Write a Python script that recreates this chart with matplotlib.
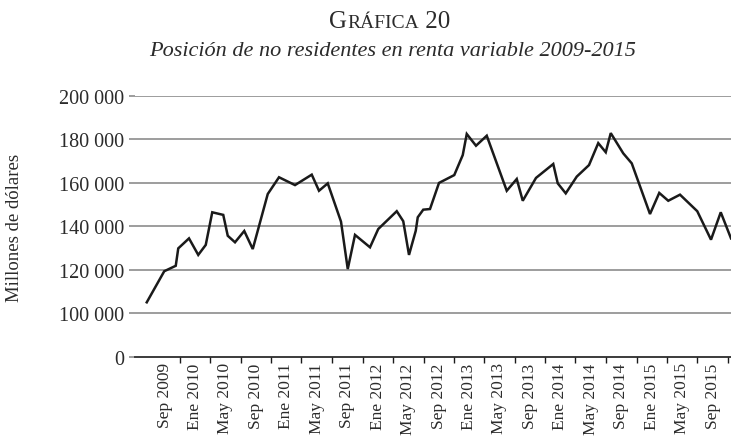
import pandas as pd
import matplotlib
matplotlib.use("Agg")
import matplotlib.pyplot as plt
import matplotlib.dates as mdates

# fechas de cada observación
fechas = ['2009-08-21', '2009-10-30', '2009-12-15', '2009-12-25', '2010-02-06', '2010-03-15',
          '2010-04-14', '2010-05-10', '2010-06-23', '2010-07-11', '2010-08-09', '2010-09-15',
          '2010-10-19', '2010-12-18', '2011-02-01', '2011-04-06', '2011-06-12', '2011-07-11',
          '2011-08-15', '2011-10-07', '2011-11-03', '2011-12-02', '2012-01-31', '2012-03-04',
          '2012-05-17', '2012-06-12', '2012-07-05', '2012-08-01', '2012-08-09', '2012-08-31',
          '2012-09-27', '2012-11-02', '2013-01-02', '2013-02-05', '2013-02-21', '2013-03-30',
          '2013-05-12', '2013-07-31', '2013-09-09', '2013-10-03', '2013-11-25', '2014-02-02',
          '2014-02-20', '2014-03-24', '2014-05-07', '2014-06-25', '2014-08-01', '2014-08-31',
          '2014-09-20', '2014-11-09', '2014-12-13', '2015-02-24', '2015-04-02', '2015-05-08',
          '2015-06-24', '2015-09-01', '2015-10-26', '2015-12-04', '2016-01-14']

# posición en millones de dólares
posicion = [105000, 119300, 121800, 129800, 134400, 126800, 131400, 146400, 145200, 135600,
            132600, 137800, 129500, 154800, 162500, 158900, 163700, 156300, 159700, 142100,
            120300, 136000, 130300, 138700, 146900, 142300, 126800, 137900, 144100, 147600,
            147900, 159900, 163500, 172700, 182400, 177000, 181600, 156300, 161700, 151700,
            162200, 168600, 159700, 155100, 162800, 168100, 178200, 174000, 182800, 173500,
            168900, 145600, 155300, 151700, 154500, 146900, 133800, 146400, 134400]

# etiquetas del eje x (grupos de 4 meses)
etiquetas_x = ['Sep 2009', 'Ene 2010', 'May 2010', 'Sep 2010', 'Ene 2011', 'May 2011',
               'Sep 2011', 'Ene 2012', 'May 2012', 'Sep 2012', 'Ene 2013', 'May 2013',
               'Sep 2013', 'Ene 2014', 'May 2014', 'Sep 2014', 'Ene 2015', 'May 2015',
               'Sep 2015']
inicio_grupos = ['2009-09-01', '2010-01-01', '2010-05-01', '2010-09-01', '2011-01-01',
                 '2011-05-01', '2011-09-01', '2012-01-01', '2012-05-01', '2012-09-01',
                 '2013-01-01', '2013-05-01', '2013-09-01', '2014-01-01', '2014-05-01',
                 '2014-09-01', '2015-01-01', '2015-05-01', '2015-09-01', '2016-01-01']

yticks = [80000, 100000, 120000, 140000, 160000, 180000, 200000]
ytick_labels = ['0', '100 000', '120 000', '140 000', '160 000', '180 000', '200 000']

SERIF = ['Liberation Serif', 'DejaVu Serif']
plt.rcParams['font.family'] = SERIF
TXT = '#2b2b2b'

x = mdates.date2num(pd.to_datetime(fechas))
bordes = mdates.date2num(pd.to_datetime(inicio_grupos))
centros = (bordes[:-1] + bordes[1:]) / 2

fig = plt.figure(figsize=(7.31, 4.39), dpi=100)
ax = fig.add_axes([135 / 731, 1 - 357.7 / 439, 1 - 135 / 731, (357.7 - 96.7) / 439])

ax.plot(x, posicion, color='#1a1a1a', linewidth=1.8, solid_joinstyle='miter')

ax.set_xlim(mdates.date2num(pd.Timestamp('2009-07-05')), mdates.date2num(pd.Timestamp('2016-01-14')))
ax.set_ylim(80000, 200000)

ax.set_yticks(yticks)
ax.set_yticklabels(ytick_labels, fontsize=14.5, color=TXT)
ax.tick_params(axis='y', length=4, color='#8c8c8c', width=1.2, pad=4)
for v in yticks[1:]:
    ax.axhline(v, color='#8c8c8c', linewidth=1.2, zorder=0)

ax.set_xticks(bordes[1:])
ax.set_xticklabels([])
ax.set_xticks(centros, minor=True)
ax.set_xticklabels(etiquetas_x, minor=True, rotation=90, fontsize=12.5, color=TXT)
ax.tick_params(axis='x', which='major', length=4, color='#1a1a1a', width=1)
ax.tick_params(axis='x', which='minor', length=0, pad=4)

for s in ['top', 'right', 'left']:
    ax.spines[s].set_visible(False)
ax.spines['bottom'].set_color('#1a1a1a')
ax.spines['bottom'].set_linewidth(1.2)

fig.text(15 / 731, 1 - 228 / 439, 'Millones de dólares', rotation=90, ha='center', va='center',
         fontsize=13.5, color=TXT)

# título con versalitas simuladas
fig.canvas.draw()
r = fig.canvas.get_renderer()
piezas = [('G', 18), ('RÁFICA', 14), (' 20', 18)]
y_base = 1 - 28 / 439
textos = [fig.text(0, y_base, t, fontsize=s, va='baseline', ha='left', color=TXT) for t, s in piezas]
anchos = [t.get_window_extent(r).width / 731 for t in textos]
x0 = 390 / 731 - sum(anchos) / 2
for t, w in zip(textos, anchos):
    t.set_x(x0)
    x0 += w

fig.text(393 / 731, 1 - 51 / 439, 'Posición de no residentes en renta variable 2009-2015',
         ha='center', va='center', fontsize=16, style='italic', color=TXT)

fig.savefig('out.png', dpi=100)
